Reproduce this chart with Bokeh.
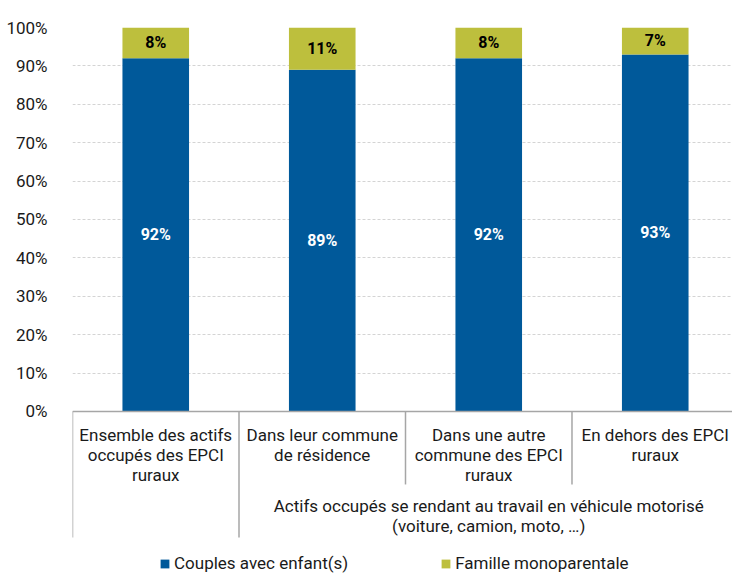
from bokeh.plotting import figure
from bokeh.models import (ColumnDataSource, Range1d, FixedTicker, PrintfTickFormatter,
                          Span, Legend, LegendItem)
from bokeh.core.properties import value
from bokeh.embed import file_html
from bokeh.resources import INLINE

categories = ["Ensemble des actifs\noccupés des EPCI\nruraux",
              "Dans leur commune\nde résidence",
              "Dans une autre\ncommune des EPCI\nruraux",
              "En dehors des EPCI\nruraux"]
couples = [92, 89, 92, 93]
mono = [8, 11, 8, 7]
group_label = "Actifs occupés se rendant au travail en véhicule motorisé\n(voiture, camion, moto, …)"
y_ticks = [0, 10, 20, 30, 40, 50, 60, 70, 80, 90, 100]
series_names = ["Couples avec enfant(s)", "Famille monoparentale"]

BLUE = "#00599A"
OLIVE = "#BDBF3D"
FONT = "Roboto"
TXT = "#1a1a1a"

n = len(categories)
xs = [i + 0.5 for i in range(n)]
src = ColumnDataSource(dict(
    x=xs,
    couples=couples,
    mono=mono,
    total=[c + m for c, m in zip(couples, mono)],
    mid_c=[c / 2 for c in couples],
    mid_m=[c + m / 2 for c, m in zip(couples, mono)],
    lab_c=[f"{c}%" for c in couples],
    lab_m=[f"{m}%" for m in mono],
    cat=categories,
))

p = figure(width=732, height=576, output_backend="svg", toolbar_location=None,
           x_range=Range1d(0, 3.964), y_range=Range1d(-42.97, 100),
           min_border_left=72, min_border_right=0, min_border_top=27, min_border_bottom=0)
p.outline_line_color = None
p.xaxis.visible = False
p.xgrid.visible = False

p.yaxis.ticker = FixedTicker(ticks=y_ticks)
p.yaxis.formatter = PrintfTickFormatter(format="%d%%")
p.yaxis.axis_line_color = None
p.yaxis.major_tick_line_color = None
p.yaxis.minor_tick_line_color = None
p.yaxis.major_label_text_font = FONT
p.yaxis.major_label_text_font_size = "17px"
p.yaxis.major_label_text_color = TXT
p.yaxis.major_label_standoff = 19

p.ygrid.ticker = FixedTicker(ticks=y_ticks)
p.ygrid.grid_line_color = "#d4d4d4"
p.ygrid.grid_line_dash = "3 2"
p.ygrid.grid_line_width = 1

p.add_layout(Span(location=0, dimension="width", line_color="#a6a6a6", line_width=1.5))

r1 = p.vbar(x="x", width=0.4, bottom=0, top="couples", source=src,
            fill_color=BLUE, line_color=None)
r2 = p.vbar(x="x", width=0.4, bottom="couples", top="total", source=src,
            fill_color=OLIVE, line_color=None)

p.text(x="x", y="mid_c", text="lab_c", source=src, text_align="center",
       text_baseline="middle", text_color="white", text_font=value(FONT),
       text_font_style="bold", text_font_size="16px")
p.text(x="x", y="mid_m", text="lab_m", source=src, text_align="center",
       text_baseline="middle", text_color="black", text_font=value(FONT),
       text_font_style="bold", text_font_size="16px")

# category labels below axis
p.text(x="x", y=-3.4, text="cat", source=src, text_align="center",
       text_baseline="top", text_color=TXT, text_font=value(FONT),
       text_font_size="17px", text_line_height=1.0)

# separators
p.segment(x0=[0, 1], y0=[0, 0], x1=[0, 1], y1=[-32.8, -32.8],
          line_color="#a6a6a6", line_width=1.5)
p.segment(x0=[2, 3], y0=[0, 0], x1=[2, 3], y1=[-19.0, -19.0],
          line_color="#a6a6a6", line_width=1.5)

# group label
p.text(x=[2.5], y=[-22.1], text=[group_label], text_align="center",
       text_baseline="top", text_color=TXT, text_font=value(FONT),
       text_font_size="17px", text_line_height=1.0)

legend = Legend(items=[LegendItem(label=series_names[0], renderers=[r1]),
                       LegendItem(label=series_names[1], renderers=[r2])],
                orientation="horizontal", location=(87, 3), spacing=92,
                glyph_width=11, glyph_height=11, label_standoff=4,
                padding=0, margin=0, border_line_color=None,
                background_fill_alpha=0,
                label_text_font=FONT, label_text_font_size="17px",
                label_text_color=TXT)
p.add_layout(legend)

open("out.html", "w").write(file_html(p, INLINE))
